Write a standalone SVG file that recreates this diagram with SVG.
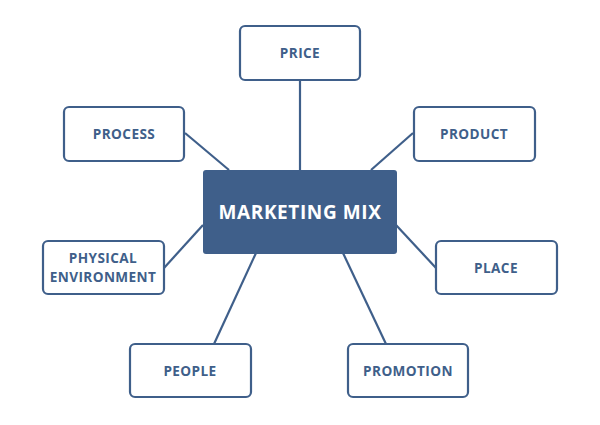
<svg xmlns="http://www.w3.org/2000/svg" width="600" height="425" viewBox="0 0 600 425">
<style>
.box{fill:#fff;stroke:#3F5F8A;stroke-width:2.2}
.lbl{font-family:"Open Sans","Liberation Sans",sans-serif;font-weight:bold;font-size:13.6px;fill:#3F5F8A;text-anchor:middle;letter-spacing:0.4px}
.conn line{stroke:#3F5F8A;stroke-width:2.2}
</style>
<rect width="600" height="425" fill="#fff"/>
<g id="connectors" class="conn">
<line x1="300" y1="80" x2="300" y2="170"/>
<line x1="185" y1="133" x2="229" y2="170"/>
<line x1="413" y1="133" x2="371" y2="170"/>
<line x1="164" y1="268" x2="203" y2="225"/>
<line x1="396" y1="225" x2="436" y2="268"/>
<line x1="256" y1="253" x2="214" y2="344"/>
<line x1="343" y1="253" x2="386" y2="344"/>
</g>
<g id="center">
<rect x="203" y="170" width="194" height="84" rx="3" fill="#3F5F8A"/>
<text x="300" y="219" font-family="'Open Sans','Liberation Sans',sans-serif" font-weight="bold" font-size="19" fill="#fff" text-anchor="middle" letter-spacing="0.6">MARKETING MIX</text>
</g>
<g id="price">
<rect class="box" x="240" y="26" width="120" height="54" rx="5"/>
<text class="lbl" x="300" y="58">PRICE</text>
</g>
<g id="process">
<rect class="box" x="64" y="107" width="120" height="54" rx="5"/>
<text class="lbl" x="124" y="139">PROCESS</text>
</g>
<g id="product">
<rect class="box" x="414" y="107" width="121" height="54" rx="5"/>
<text class="lbl" x="474" y="139">PRODUCT</text>
</g>
<g id="physical">
<rect class="box" x="43" y="241" width="121" height="53" rx="5"/>
<text class="lbl" x="103" y="263">PHYSICAL</text>
<text class="lbl" x="103" y="282">ENVIRONMENT</text>
</g>
<g id="place">
<rect class="box" x="436" y="241" width="121" height="53" rx="5"/>
<text class="lbl" x="496" y="273">PLACE</text>
</g>
<g id="people">
<rect class="box" x="130" y="344" width="121" height="53" rx="5"/>
<text class="lbl" x="190" y="376">PEOPLE</text>
</g>
<g id="promotion">
<rect class="box" x="348" y="344" width="120" height="53" rx="5"/>
<text class="lbl" x="408" y="376">PROMOTION</text>
</g>
</svg>
